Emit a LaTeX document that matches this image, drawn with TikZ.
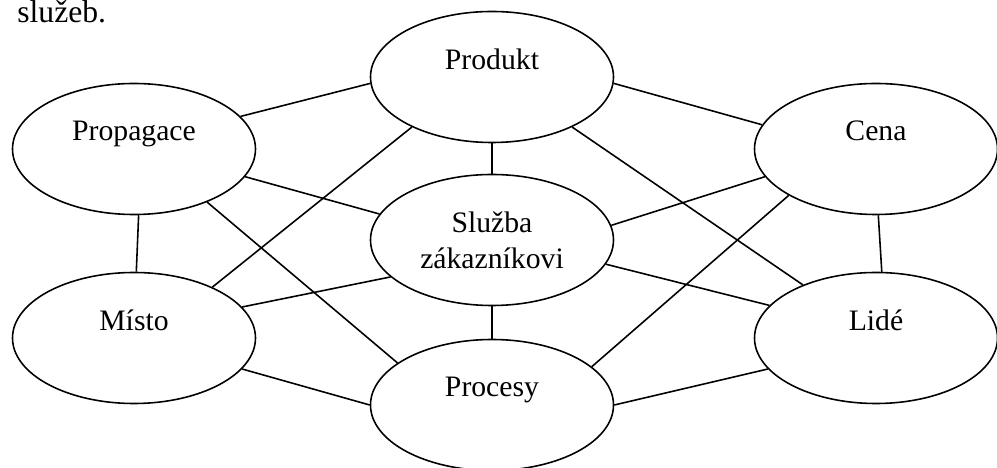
\documentclass[tikz,border=0pt]{standalone}
\usepackage{fontspec}
\setmainfont{Liberation Serif}
\usetikzlibrary{shapes.geometric}

\begin{document}
\begin{tikzpicture}
   [
      % Style for the ovals: plain ellipse, fixed size, text sits in the upper half
      oval/.style={ellipse, draw, line width=0.9pt, minimum width=4.86cm, minimum height=2.62cm, inner sep=0pt, align=center, font=\fontsize{16.9}{20.5}\selectfont},
      % Style for the straight links between the ovals
      link/.style={line width=0.9pt},
      % Style for the loose text line at the top
      page text/.style={inner sep=0pt, anchor=base west, font=\fontsize{18}{21}\selectfont}
   ]

    % Fix the frame to the size of the reference
    \useasboundingbox (0,0) rectangle (19.94,-9.36);

    % =======================================================
    % End of the sentence above the picture
    % =======================================================
    \node[page text] (sluzeb) at (0.34,-0.46) {služeb.};

    % =======================================================
    % The seven ovals
    % =======================================================

    % Middle column
    \node[oval] (produkt) at (9.84,-1.54) {Produkt\\ \mbox{}};
    \node[oval] (sluzba) at (9.84,-4.80) {Služba\\zákazníkovi};
    \node[oval] (procesy) at (9.84,-8.10) {Procesy\\ \mbox{}};

    % Left column
    \node[oval] (propagace) at (2.68,-2.98) {Propagace\\ \mbox{}};
    \node[oval] (misto) at (2.68,-6.76) {Místo\\ \mbox{}};

    % Right column
    \node[oval] (cena) at (17.52,-2.98) {Cena\\ \mbox{}};
    \node[oval] (lide) at (17.52,-6.76) {Lidé\\ \mbox{}};

    % =======================================================
    % Links
    % =======================================================

    % Outer ring
    \draw[link] (propagace.17) -- (produkt.183);
    \draw[link] (produkt.-3) -- (cena.168);
    \draw[link] (propagace.-86) -- (misto.88);
    \draw[link] (cena.-88) -- (lide.85);
    \draw[link] (misto.-16) -- (procesy.180);
    \draw[link] (procesy.0) -- (lide.196);

    % Middle column
    \draw[link] (produkt.south) -- (sluzba.north);
    \draw[link] (sluzba.south) -- (procesy.north);

    % Spokes to the middle oval
    \draw[link] (propagace.-14) -- (sluzba.167);
    \draw[link] (misto.16) -- (sluzba.200);
    \draw[link] (sluzba.7) -- (cena.194);
    \draw[link] (sluzba.-12) -- (lide.163);

    % Long diagonals
    \draw[link] (propagace.-36) -- (procesy.156);
    \draw[link] (misto.33) -- (produkt.212);
    \draw[link] (produkt.-32) -- (lide.144);
    \draw[link] (procesy.21) -- (cena.208);

\end{tikzpicture}
\end{document}
